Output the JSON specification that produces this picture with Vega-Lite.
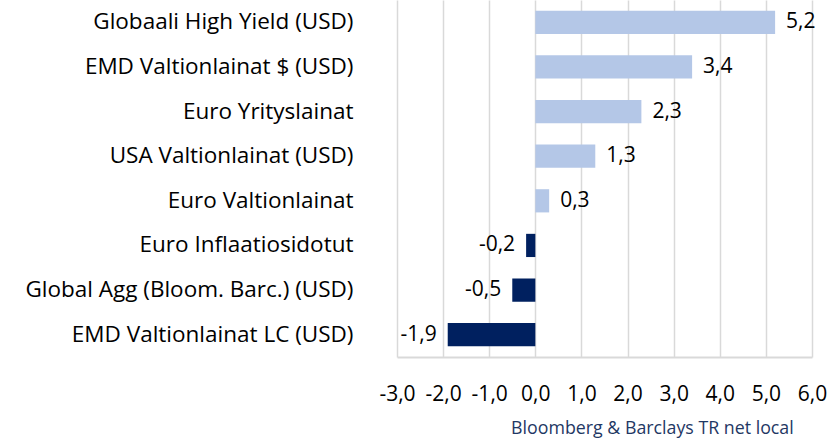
{
  "$schema": "https://vega.github.io/schema/vega-lite/v6.json",
  "width": 415,
  "height": 357,
  "autosize": {"type": "none"},
  "padding": {"left": 397, "top": 0, "right": 19, "bottom": 82},
  "background": "white",
  "config": {
    "view": {"stroke": null},
    "font": "Open Sans",
    "locale": {"number": {"decimal": ",", "thousands": "\u00a0", "grouping": [3], "currency": ["", "\u00a0€"], "minus": "-"}}
  },
  "title": {
    "text": "Bloomberg & Barclays TR net local",
    "orient": "bottom",
    "anchor": "end",
    "dx": -33,
    "offset": 16,
    "fontSize": 17.8,
    "fontWeight": "normal",
    "color": "#1F3864",
    "font": "Open Sans"
  },
  "data": {
    "values": [
      {"category": "Globaali High Yield (USD)", "value": 5.2},
      {"category": "EMD Valtionlainat $ (USD)", "value": 3.4},
      {"category": "Euro Yrityslainat", "value": 2.3},
      {"category": "USA Valtionlainat (USD)", "value": 1.3},
      {"category": "Euro Valtionlainat", "value": 0.3},
      {"category": "Euro Inflaatiosidotut", "value": -0.2},
      {"category": "Global Agg (Bloom. Barc.) (USD)", "value": -0.5},
      {"category": "EMD Valtionlainat LC (USD)", "value": -1.9}
    ]
  },
  "encoding": {
    "y": {
      "field": "category",
      "type": "nominal",
      "sort": null,
      "scale": {"paddingInner": 0.48, "paddingOuter": 0.24},
      "axis": {
        "title": null,
        "domain": false,
        "ticks": false,
        "grid": false,
        "labelPadding": 44,
        "labelFontSize": 22.5,
        "labelColor": "#000000",
        "labelFont": "Open Sans",
        "labelLimit": 400
      }
    }
  },
  "layer": [
    {
      "mark": {"type": "bar"},
      "encoding": {
        "x": {
          "field": "value",
          "type": "quantitative",
          "scale": {"domain": [-3, 6], "nice": false},
          "axis": {
            "title": null,
            "values": [-3, -2, -1, 0, 1, 2, 3, 4, 5, 6],
            "format": ".1f",
            "grid": true,
            "gridColor": "#d9d9d9",
            "gridWidth": 1.5,
            "domainColor": "#d9d9d9",
            "domainWidth": 2,
            "ticks": false,
            "labelPadding": 26,
            "labelFontSize": 21,
            "labelColor": "#000000",
            "labelFont": "Open Sans",
            "labelFlush": false
          }
        },
        "color": {
          "condition": {"test": "datum.value < 0", "value": "#00205F"},
          "value": "#B4C7E7"
        }
      }
    },
    {
      "mark": {"type": "rule", "color": "#a6a6a6", "strokeWidth": 1.5},
      "encoding": {"x": {"datum": 0}}
    },
    {
      "transform": [{"filter": "datum.value >= 0"}],
      "mark": {"type": "text", "align": "left", "baseline": "middle", "dx": 11, "fontSize": 21, "color": "#000000", "font": "Open Sans"},
      "encoding": {
        "x": {"field": "value", "type": "quantitative"},
        "text": {"field": "value", "type": "quantitative", "format": ".1f"}
      }
    },
    {
      "transform": [{"filter": "datum.value < 0"}],
      "mark": {"type": "text", "align": "right", "baseline": "middle", "dx": -11, "fontSize": 21, "color": "#000000", "font": "Open Sans"},
      "encoding": {
        "x": {"field": "value", "type": "quantitative"},
        "text": {"field": "value", "type": "quantitative", "format": ".1f"}
      }
    }
  ]
}
